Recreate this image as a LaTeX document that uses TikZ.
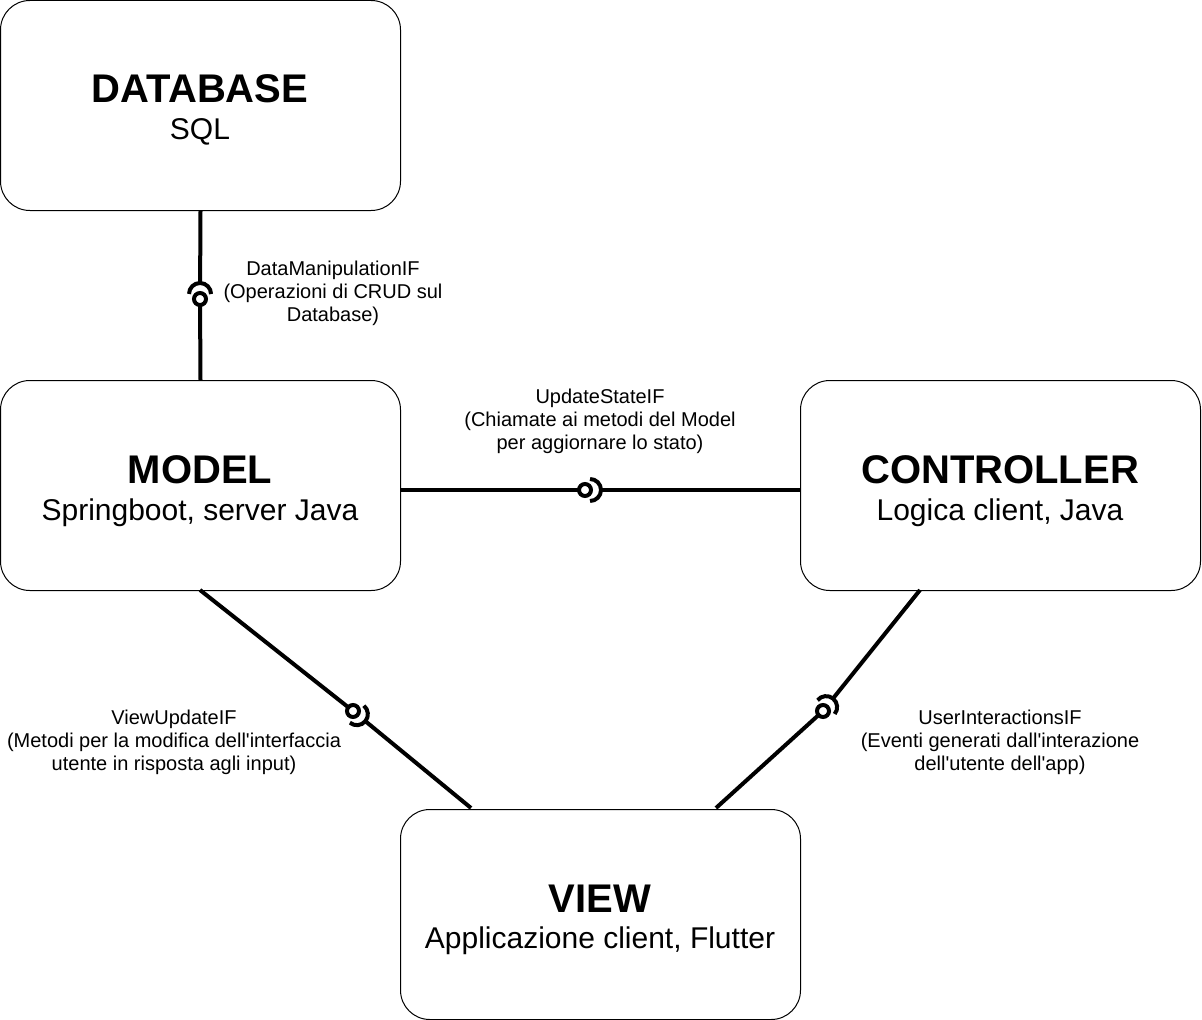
\documentclass[tikz,border=0pt]{standalone}
\usepackage{fontspec}
\setmainfont{Liberation Sans}
\usetikzlibrary{calc}
\tikzset{
  box/.style={draw=black, line width=0.75pt, rounded corners=22pt, minimum width=300pt, minimum height=157.5pt, inner sep=0pt},
  ttl/.style={anchor=base, font=\fontsize{30}{34}\selectfont\bfseries, inner sep=0pt},
  sub/.style={anchor=base, font=\fontsize{22.5}{26}\selectfont, inner sep=0pt},
  lbl/.style={align=center, font=\fontsize{15}{17.25}\selectfont, inner sep=0pt},
  conn/.style={line width=3pt, black},
}
% #1 ball-side end, #2 ball centre, #3 socket-side end
\newcommand\lollipop[3]{%
  \draw[conn] (#1) -- ($(#2)!4.5pt!(#1)$);
  \draw[conn] (#2) circle[radius=4.5pt];
  \draw[conn] (#3) -- ($(#2)!12pt!(#3)$);
  \draw[conn] let \p1=($(#3)-(#2)$), \n1={atan2(\y1,\x1)} in
    ($(#2)+(\n1:3.75pt)+(\n1-90:8.25pt)$) arc[start angle=\n1-90, delta angle=180, radius=8.25pt];
}
\begin{document}
\begin{tikzpicture}[x=0.75pt,y=-0.75pt]
\useasboundingbox (0,0) rectangle (1202,1020);
% boxes
\node[box] (DB) at (200.5,105.5) {};
\node[box] (MODEL) at (200.5,485.5) {};
\node[box] (CTRL) at (1000.5,485.5) {};
\node[box] (VIEW) at (600.5,914.5) {};
% box texts
\node[ttl] (dbt) at (200,103) {DATABASE};
\node[sub] (dbs) at (200,140) {SQL};
\node[ttl] (mt) at (200,483) {MODEL};
\node[sub] (ms) at (200,520) {Springboot, server Java};
\node[ttl] (ct) at (1000,483) {CONTROLLER};
\node[sub] (cs) at (1000,520) {Logica client, Java};
\node[ttl] (vt) at (600,912) {VIEW};
\node[sub] (vs) at (600,948) {Applicazione client, Flutter};
% endpoints and centers
\coordinate (e1a) at (DB.south);
\coordinate (e1b) at (MODEL.north);
\coordinate (c1) at (200,299);
\coordinate (e2a) at (400,490);
\coordinate (e2b) at (800,490);
\coordinate (c2) at (585,490);
\coordinate (e3a) at (200,590);
\coordinate (e3b) at (471,808);
\coordinate (c3) at (353,711);
\coordinate (e4a) at (920,590);
\coordinate (e4b) at (716,808);
\coordinate (c4) at (823,711);
% connectors
\lollipop{e1b}{c1}{e1a}
\lollipop{e2a}{c2}{e2b}
\lollipop{e3a}{c3}{e3b}
\lollipop{e4b}{c4}{e4a}
% labels
\node[lbl] (l1) at (333,293) {DataManipulationIF\\(Operazioni di CRUD sul\\Database)};
\node[lbl] (l2) at (600,421) {UpdateStateIF\\(Chiamate ai metodi del Model\\per aggiornare lo stato)};
\node[lbl] (l3) at (174,742) {ViewUpdateIF\\(Metodi per la modifica dell\textquotesingle interfaccia\\utente in risposta agli input)};
\node[lbl] (l4) at (1000,742) {UserInteractionsIF\\(Eventi generati dall\textquotesingle interazione\\dell\textquotesingle utente dell\textquotesingle app)};
\end{tikzpicture}
\end{document}
